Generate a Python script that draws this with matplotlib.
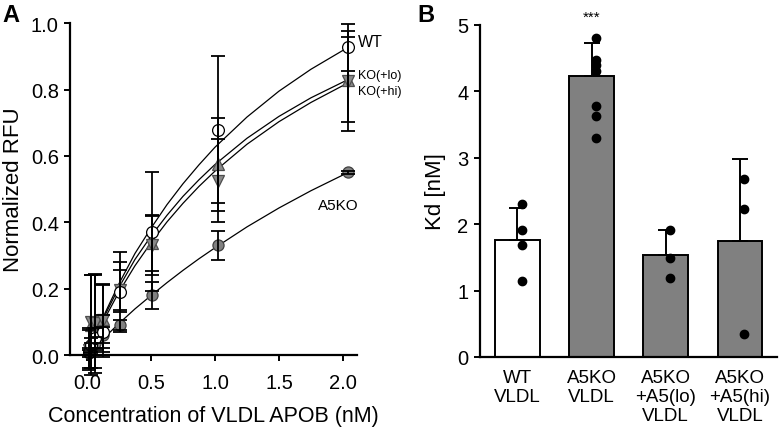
import matplotlib
matplotlib.use("Agg")
import matplotlib.pyplot as plt
import numpy as np

plt.rcParams['font.family'] = ['Liberation Sans', 'DejaVu Sans']

# ---------------- Panel A data ----------------
conc = [0.016, 0.032, 0.064, 0.1275, 0.255, 0.51, 1.02, 2.04]
wt_mean = [0.010, 0.030, 0.050, 0.070, 0.190, 0.372, 0.679, 0.927]
wt_err = [0.010, 0.020, 0.030, 0.050, 0.120, 0.180, 0.222, 0.070]
ko_mean = [0.005, 0.020, 0.035, 0.060, 0.090, 0.180, 0.330, 0.550]
ko_err = [0.010, 0.015, 0.020, 0.025, 0.015, 0.040, 0.045, 0.005]
lo_mean = [0.020, 0.090, 0.100, 0.110, 0.205, 0.337, 0.575, 0.830]
lo_err = [0.060, 0.150, 0.140, 0.100, 0.075, 0.085, 0.140, 0.127]
hi_mean = [0.015, 0.100, 0.095, 0.105, 0.195, 0.330, 0.525, 0.825]
hi_err = [0.060, 0.140, 0.150, 0.110, 0.060, 0.090, 0.125, 0.150]

# fitted curves
fit_x = [0.0, 0.1, 0.25, 0.375, 0.5, 0.625, 0.75, 0.875, 1.0, 1.25, 1.5, 1.75, 2.04]
fit_wt = [0.0, 0.093, 0.215, 0.306, 0.382, 0.453, 0.516, 0.573, 0.626, 0.717, 0.795, 0.861, 0.927]
fit_ko = [0.0, 0.039, 0.095, 0.139, 0.179, 0.218, 0.255, 0.290, 0.323, 0.386, 0.443, 0.495, 0.550]
fit_lo = [0.0, 0.089, 0.204, 0.288, 0.358, 0.421, 0.478, 0.528, 0.574, 0.653, 0.719, 0.775, 0.830]
fit_hi = [0.0, 0.082, 0.190, 0.269, 0.338, 0.401, 0.457, 0.508, 0.554, 0.635, 0.703, 0.761, 0.820]

# ---------------- Panel B data ----------------
groups = ["WT\nVLDL", "A5KO\nVLDL", "A5KO\n+A5(lo)\nVLDL", "A5KO\n+A5(hi)\nVLDL"]
kd_mean = [1.76, 4.23, 1.53, 1.75]
kd_err = [0.48, 0.50, 0.38, 1.23]
kd_points = [
    [2.30, 1.92, 1.68, 1.15],
    [4.81, 4.47, 4.40, 4.31, 3.78, 3.63, 3.30],
    [1.92, 1.49, 1.19],
    [2.68, 2.23, 0.35],
]
bar_colors = ["white", "#808080", "#808080", "#808080"]

fig = plt.figure(figsize=(7.8, 4.31), dpi=100)

# ================= Panel A =================
axA = fig.add_axes([0.0897, 0.174, 0.368, 0.770])
lw_sp = 1.6
for s in ['top', 'right']:
    axA.spines[s].set_visible(False)
for s in ['left', 'bottom']:
    axA.spines[s].set_linewidth(lw_sp)

curve_kw = dict(color='black', lw=0.9, zorder=1)
axA.plot(fit_x, fit_wt, **curve_kw)
axA.plot(fit_x, fit_ko, **curve_kw)
axA.plot(fit_x, fit_lo, **curve_kw)
axA.plot(fit_x, fit_hi, **curve_kw)

tri_fc = '#8a8a8a'
tri_ec = '#4d4d4d'
series = [
    (ko_mean, ko_err, 'o', '#808080', '#404040', 8),
    (lo_mean, lo_err, '^', tri_fc, tri_ec, 8.5),
    (hi_mean, hi_err, 'v', tri_fc, tri_ec, 8.5),
    (wt_mean, wt_err, 'o', 'white', 'black', 8.5),
]
for m, e, mk, fc, ec, ms in series:
    axA.plot(conc, m, linestyle='none', marker=mk, markersize=ms,
             markerfacecolor=fc, markeredgecolor=ec, markeredgewidth=0.9,
             zorder=2, clip_on=False)
    axA.errorbar(conc, m, yerr=e, fmt='none', ecolor='black', elinewidth=1.3,
                 capsize=5, capthick=1.3, zorder=3, clip_on=False)

axA.set_xlim(-0.133, 2.11)
axA.set_ylim(0, 1.0)
axA.set_xticks([0.0, 0.5, 1.0, 1.5, 2.0])
axA.set_yticks([0.0, 0.2, 0.4, 0.6, 0.8, 1.0])
axA.xaxis.set_major_formatter(matplotlib.ticker.FormatStrFormatter('%.1f'))
axA.yaxis.set_major_formatter(matplotlib.ticker.FormatStrFormatter('%.1f'))
axA.tick_params(direction='out', length=4, width=1.4, labelsize=14.5, pad=4)
axA.tick_params(axis='x', pad=9)
axA.set_xlabel("Concentration of VLDL APOB (nM)", fontsize=15.5, labelpad=9)
axA.set_ylabel("Normalized RFU", fontsize=16, labelpad=5)

axA.text(2.12, 0.945, "WT", fontsize=11.5, ha='left', va='center')
axA.text(2.12, 0.843, "KO(+lo)", fontsize=9, ha='left', va='center')
axA.text(2.12, 0.797, "KO(+hi)", fontsize=9, ha='left', va='center')
axA.text(1.96, 0.452, "A5KO", fontsize=11, ha='center', va='center')

fig.text(0.003, 0.965, "A", fontsize=17, fontweight='bold', ha='left', va='center')

# ================= Panel B =================
axB = fig.add_axes([0.615, 0.1694, 0.381, 0.7703])
for s in ['top', 'right']:
    axB.spines[s].set_visible(False)
for s in ['left', 'bottom']:
    axB.spines[s].set_linewidth(lw_sp)

xpos = np.arange(len(groups))
axB.bar(xpos, kd_mean, width=0.6, color=bar_colors, edgecolor='black',
        linewidth=1.4, zorder=1)
axB.errorbar(xpos, kd_mean, yerr=[np.zeros(len(kd_err)), kd_err], fmt='none',
             ecolor='black', elinewidth=1.4, capsize=6, capthick=1.4, zorder=2)
for i, pts in enumerate(kd_points):
    axB.plot([xpos[i] + 0.06] * len(pts), pts, linestyle='none', marker='o',
             markersize=6, color='black', zorder=3)

axB.text(xpos[1], 5.12, "***", fontsize=11, ha='center', va='center')

axB.set_xlim(-0.51, 3.5)
axB.set_ylim(0, 5)
axB.set_yticks([0, 1, 2, 3, 4, 5])
axB.set_xticks(xpos)
axB.set_xticklabels(groups, fontsize=13.5, linespacing=1.15)
axB.tick_params(axis='x', length=0, pad=9)
axB.tick_params(axis='y', direction='out', length=4, width=1.4, labelsize=14.5, pad=4)
axB.set_ylabel("Kd [nM]", fontsize=16, labelpad=8)

fig.text(0.535, 0.965, "B", fontsize=17, fontweight='bold', ha='left', va='center')

fig.savefig("out.png", dpi=100)
